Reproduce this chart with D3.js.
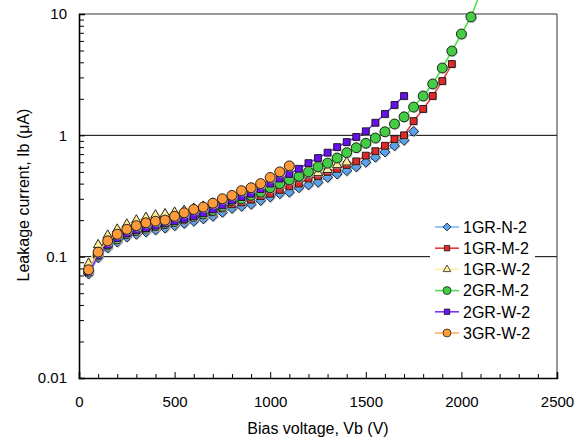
<!DOCTYPE html>
<html lang="en">
<head>
<meta charset="utf-8">
<title>Leakage current vs bias voltage</title>
<script src="https://d3js.org/d3.v7.min.js"></script>
<style>
    body { margin: 0; background: #fff; }
    text { font-family: "Liberation Sans", Arial, sans-serif; fill: #000; }
</style>
</head>
<body>
<div id="chart"></div>
<script>
// bias voltage steps (V)
var volts = d3.range(50, 2101, 50);

// leakage current (uA) per sample, one value per voltage step
var n2_1GR = [0.072,0.098,0.118,0.132,0.145,0.153,0.16,0.166,0.172,0.18,0.188,0.196,0.205,0.215,0.232,0.25,0.26,0.27,0.29,0.31,0.33,0.34,0.37,0.39,0.41,0.45,0.48,0.51,0.55,0.60,0.66,0.73,0.82,0.91,1.08];
var m2_1GR = [0.078,0.105,0.125,0.14,0.152,0.16,0.168,0.175,0.182,0.19,0.2,0.21,0.22,0.232,0.25,0.27,0.28,0.295,0.315,0.33,0.355,0.38,0.40,0.44,0.46,0.50,0.53,0.57,0.61,0.68,0.74,0.82,0.93,1.0,1.31,1.65,2.11,2.80,3.87];
var w2_1GR = [0.088,0.125,0.15,0.168,0.185,0.2,0.21,0.22,0.225,0.232,0.24,0.25,0.26,0.275,0.29,0.31,0.325,0.34,0.36,0.38,0.40,0.42,0.44,0.47,0.49,0.52,0.57,0.60];
var m2_2GR = [0.075,0.103,0.125,0.14,0.155,0.165,0.172,0.18,0.187,0.195,0.205,0.215,0.225,0.24,0.26,0.29,0.30,0.32,0.34,0.37,0.40,0.43,0.46,0.50,0.55,0.59,0.65,0.72,0.79,0.86,0.95,1.07,1.24,1.42,1.71,2.11,2.65,3.59,4.95,6.84,9.45,15];
var w2_2GR = [0.074,0.102,0.125,0.142,0.155,0.165,0.172,0.18,0.188,0.196,0.205,0.215,0.228,0.245,0.265,0.29,0.31,0.33,0.36,0.40,0.44,0.48,0.53,0.59,0.65,0.72,0.80,0.88,0.97,1.08,1.27,1.50,1.78,2.11];
var w2_3GR = [0.078,0.109,0.135,0.153,0.168,0.18,0.19,0.196,0.20,0.215,0.23,0.245,0.256,0.276,0.30,0.32,0.35,0.37,0.40,0.45,0.50,0.56];

var names = ["1GR-N-2","1GR-M-2","1GR-W-2","2GR-M-2","2GR-W-2","3GR-W-2"];
var seriesVals = [n2_1GR, m2_1GR, w2_1GR, m2_2GR, w2_2GR, w2_3GR];
var xTicks = [0,500,1000,1500,2000,2500];
var yTicks = [0.01,0.1,1,10];

var styles = [
    {line:"#7ab8f5", fill:"#5aa2ee", shape:"diamond"},
    {line:"#e83a3a", fill:"#dd2b2b", shape:"square"},
    {line:"#fff099", fill:"#ffef9a", shape:"triangle"},
    {line:"#55dd55", fill:"#44cc44", shape:"circle"},
    {line:"#7733ff", fill:"#6611ee", shape:"square"},
    {line:"#ffb060", fill:"#ff9a3a", shape:"circle"}
];

var W = 586, H = 444;
var m = {left: 79, right: 29, top: 14, bottom: 66};

var svg = d3.select("#chart").append("svg")
    .attr("width", W).attr("height", H);

var x = d3.scaleLinear().domain([0, 2500]).range([m.left, W - m.right]);
var y = d3.scaleLog().domain([0.01, 10]).range([H - m.bottom, m.top]);

// gridlines at 0.1 and 1
svg.selectAll(".grid").data([0.1, 1]).enter().append("line")
    .attr("x1", x(0)).attr("x2", x(2500))
    .attr("y1", function (d) { return y(d); })
    .attr("y2", function (d) { return y(d); })
    .attr("stroke", "#000").attr("stroke-width", 1);

// frame top/right
svg.append("line").attr("x1", x(0)).attr("x2", x(2500)).attr("y1", y(10)).attr("y2", y(10))
    .attr("stroke", "#333").attr("stroke-width", 1.2);
svg.append("line").attr("x1", x(2500)).attr("x2", x(2500)).attr("y1", y(10)).attr("y2", y(0.01))
    .attr("stroke", "#333").attr("stroke-width", 1);

// x axis, inward ticks
var xAxis = svg.append("g").attr("transform", "translate(0," + y(0.01) + ")");
xAxis.call(d3.axisBottom(x).tickValues(xTicks).tickSize(-6).tickPadding(18).tickFormat(d3.format("d")));
xAxis.append("g").call(d3.axisBottom(x).tickValues(d3.range(100, 2500, 100).filter(function (v) { return v % 500; }))
    .tickSize(-4).tickFormat(""));
xAxis.selectAll("text").style("font-size", "15px");
xAxis.selectAll(".domain").attr("stroke-width", 1.6).attr("stroke", "#000");

// y axis, log minor ticks
var minor = [];
[0.01, 0.1, 1].forEach(function (b) { for (var k = 2; k <= 9; k++) minor.push(b * k); });
var yAxis = svg.append("g").attr("transform", "translate(" + x(0) + ",0)");
yAxis.call(d3.axisLeft(y).tickValues(yTicks).tickSize(-6).tickPadding(12).tickFormat(function (d) { return String(d); }));
yAxis.append("g").call(d3.axisLeft(y).tickValues(minor).tickSize(-5).tickFormat(""));
yAxis.selectAll("text").style("font-size", "15px");
yAxis.selectAll(".domain").attr("stroke-width", 1.6).attr("stroke", "#000");
svg.selectAll(".domain").filter(function () { return this.parentNode.parentNode !== svg.node(); }).remove();

// axis titles
svg.append("text").attr("x", x(1250)).attr("y", 434).attr("text-anchor", "middle")
    .style("font-size", "16px").text("Bias voltage, Vb (V)");
svg.append("text").attr("transform", "translate(23,195) rotate(-90)")
    .attr("text-anchor", "middle").attr("dy", "0.36em").style("font-size", "16px").text("Leakage current, Ib (μA)");

function markerPath(shape) {
    if (shape === "diamond") return d3.symbol(d3.symbolDiamond2, 64)();
    if (shape === "square") return d3.symbol(d3.symbolSquare2, 60)();
    if (shape === "triangle") return d3.symbol(d3.symbolTriangle2, 64)();
    return d3.symbol(d3.symbolCircle, 78)();
}

var line = d3.line().x(function (d) { return x(d.v); }).y(function (d) { return y(d.i); });

seriesVals.forEach(function (vals, s) {
    var pts = vals.map(function (iv, k) { return {v: volts[k], i: iv}; });
    var st = styles[s];
    var g = svg.append("g");
    g.append("path").datum(pts).attr("d", line)
        .attr("fill", "none").attr("stroke", st.line).attr("stroke-width", 1.6);
    var vis = pts.filter(function (d) { return d.i <= 10; });
    // light shadow
    g.selectAll(".sh").data(vis).enter().append("path")
        .attr("d", markerPath(st.shape))
        .attr("transform", function (d) { return "translate(" + (x(d.v) + 1) + "," + (y(d.i) + 1) + ")"; })
        .attr("fill", "#bbb").attr("opacity", 0.7);
    g.selectAll(".mk").data(vis).enter().append("path")
        .attr("d", markerPath(st.shape))
        .attr("transform", function (d) { return "translate(" + x(d.v) + "," + y(d.i) + ")"; })
        .attr("fill", st.fill).attr("stroke", "#111").attr("stroke-width", 0.9);
});

// legend
var lg = svg.append("g");
lg.append("rect").attr("x", 430).attr("y", 215).attr("width", 105).attr("height", 128).attr("fill", "#fff");
names.forEach(function (nm, s) {
    var yy = 227 + s * 21.2;
    var st = styles[s];
    lg.append("line").attr("x1", 435).attr("x2", 459).attr("y1", yy).attr("y2", yy)
        .attr("stroke", st.line).attr("stroke-width", 1.6);
    lg.append("path").attr("d", markerPath(st.shape))
        .attr("transform", "translate(447," + yy + ") scale(0.8)")
        .attr("fill", st.fill).attr("stroke", "#111").attr("stroke-width", 0.9);
    lg.append("text").attr("x", 463).attr("y", yy).attr("dy", "0.36em")
        .style("font-size", "16px").text(nm);
});
</script>
</body>
</html>
